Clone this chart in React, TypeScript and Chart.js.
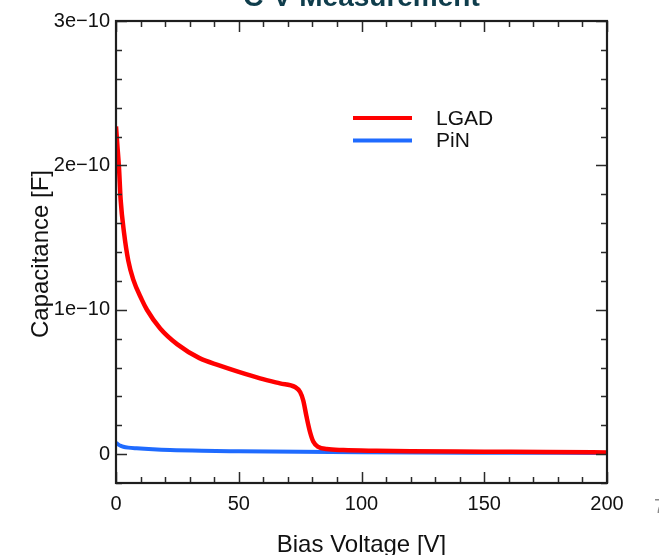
import { useEffect, useRef } from "react";
import { Chart, registerables } from "chart.js";

Chart.register(...registerables);

// Bias voltage [V] and measured capacitance [F] for each sensor
const LGAD_VOLTAGE = [
  0, 0.5, 1.2, 1.9, 3.3, 5, 7, 10.5, 12.6, 18, 25, 34, 42, 50, 58.7, 66.8, 72.9,
  75, 76.3, 77.6, 79, 80.4, 82.4, 85.8, 92.6, 106, 120, 150, 175, 200,
];
const LGAD_CAPACITANCE = [
  2.27e-10, 2.15e-10, 1.99e-10, 1.76e-10, 1.53e-10, 1.34e-10, 1.21e-10, 1.07e-10,
  1.0e-10, 0.87e-10, 0.76e-10, 0.665e-10, 0.615e-10, 0.57e-10, 0.525e-10, 0.49e-10,
  0.465e-10, 0.43e-10, 0.37e-10, 0.26e-10, 0.155e-10, 0.085e-10, 0.05e-10,
  0.035e-10, 0.028e-10, 0.023e-10, 0.02e-10, 0.017e-10, 0.014e-10, 0.012e-10,
];
const PIN_VOLTAGE = [0, 1, 2, 3, 5, 8.4, 15, 22, 35, 50, 75, 100, 150, 200];
const PIN_CAPACITANCE = [
  0.078e-10, 0.066e-10, 0.057e-10, 0.051e-10, 0.045e-10, 0.04e-10, 0.033e-10,
  0.028e-10, 0.023e-10, 0.02e-10, 0.016e-10, 0.013e-10, 0.01e-10, 0.008e-10,
];

const SERIES_LABELS = ["LGAD", "PiN"];
const SERIES_COLORS = ["#ff0000", "#1f6bff"];

const X_TICKS = [0, 50, 100, 150, 200];
const X_MINOR_STEP = 10;
const Y_TICKS = [0, 1e-10, 2e-10, 3e-10];
const Y_TICK_LABELS = ["0", "1e\u221210", "2e\u221210", "3e\u221210"];
const Y_MINOR_STEP = 0.2e-10;
const X_RANGE = [0, 200];
const Y_RANGE = [-0.2e-10, 3e-10];

const TITLE = "C-V Measurement";
const X_TITLE = "Bias Voltage [V]";
const Y_TITLE = "Capacitance [F]";
const PAGE_NUMBER = "7";

const FONT = '"Liberation Sans", Arial, Helvetica, sans-serif';

// Boxed frame with inward major/minor ticks on all four sides
const framePlugin = {
  id: "frame",
  afterDatasetsDraw(chart: any) {
    const { ctx, chartArea: a, scales } = chart;
    const xs = scales.x;
    const ys = scales.y;
    ctx.save();
    ctx.strokeStyle = "#2a2a2a";
    ctx.lineWidth = 1.5;
    const major = 11;
    const minor = 6;
    const eps = 1e-9;
    ctx.beginPath();
    for (let v = X_RANGE[0]; v <= X_RANGE[1] + eps; v += X_MINOR_STEP) {
      const isMajor = X_TICKS.some((t) => Math.abs(t - v) < eps);
      const len = isMajor ? major : minor;
      const px = Math.round(xs.getPixelForValue(v)) + 0.5;
      ctx.moveTo(px, a.bottom);
      ctx.lineTo(px, a.bottom - len);
      ctx.moveTo(px, a.top);
      ctx.lineTo(px, a.top + len);
    }
    const n = Math.round((Y_RANGE[1] - Y_RANGE[0]) / Y_MINOR_STEP);
    for (let i = 0; i <= n; i++) {
      const v = Y_RANGE[0] + i * Y_MINOR_STEP;
      const isMajor = Y_TICKS.some((t) => Math.abs(t - v) < 1e-13);
      const len = isMajor ? major : minor;
      const py = Math.round(ys.getPixelForValue(v)) + 0.5;
      ctx.moveTo(a.left, py);
      ctx.lineTo(a.left + len, py);
      ctx.moveTo(a.right, py);
      ctx.lineTo(a.right - len, py);
    }
    ctx.stroke();
    ctx.lineWidth = 2.2;
    ctx.strokeStyle = "#1e1e1e";
    ctx.strokeRect(a.left, a.top, a.right - a.left, a.bottom - a.top);
    ctx.restore();
  },
};

// Legend drawn inside the plot area, one short line + label per dataset
const legendPlugin = {
  id: "innerLegend",
  afterDraw(chart: any) {
    const { ctx, chartArea: a } = chart;
    ctx.save();
    ctx.font = `21px ${FONT}`;
    ctx.textBaseline = "middle";
    ctx.textAlign = "left";
    chart.data.datasets.forEach((ds: any, i: number) => {
      const y = a.top + 97 + i * 22.5;
      ctx.strokeStyle = ds.borderColor;
      ctx.lineWidth = 4;
      ctx.beginPath();
      ctx.moveTo(a.left + 237, y);
      ctx.lineTo(a.left + 296, y);
      ctx.stroke();
      ctx.fillStyle = "#111";
      ctx.fillText(ds.label, a.left + 320, y + 1);
    });
    ctx.restore();
  },
};

// Chart title, axis titles and the page number
const textPlugin = {
  id: "texts",
  afterDraw(chart: any) {
    const { ctx, chartArea: a } = chart;
    const cx = (a.left + a.right) / 2;
    const cy = (a.top + a.bottom) / 2;
    ctx.save();
    ctx.textAlign = "center";
    ctx.textBaseline = "alphabetic";
    ctx.fillStyle = "#0f3d4c";
    ctx.font = `bold 28px ${FONT}`;
    ctx.fillText(TITLE, cx, 6);

    ctx.fillStyle = "#111";
    ctx.font = `24px ${FONT}`;
    ctx.fillText(X_TITLE, cx, 552);

    ctx.translate(48, cy + 2);
    ctx.rotate(-Math.PI / 2);
    ctx.fillText(Y_TITLE, 0, 0);
    ctx.restore();

    ctx.save();
    ctx.fillStyle = "#8a8a8a";
    ctx.font = `20px ${FONT}`;
    ctx.textAlign = "left";
    ctx.fillText(PAGE_NUMBER, 654, 513);
    ctx.restore();
  },
};

export default function App() {
  const canvasRef = useRef<HTMLCanvasElement | null>(null);

  useEffect(() => {
    const canvas = canvasRef.current;
    if (!canvas) return;
    const toPoints = (xs: number[], ys: number[]) =>
      xs.map((x, i) => ({ x, y: ys[i] }));

    const chart = new Chart(canvas, {
      type: "line",
      data: {
        datasets: [
          {
            label: SERIES_LABELS[0],
            data: toPoints(LGAD_VOLTAGE, LGAD_CAPACITANCE),
            borderColor: SERIES_COLORS[0],
            borderWidth: 4.5,
            pointRadius: 0,
            cubicInterpolationMode: "monotone",
          },
          {
            label: SERIES_LABELS[1],
            data: toPoints(PIN_VOLTAGE, PIN_CAPACITANCE),
            borderColor: SERIES_COLORS[1],
            borderWidth: 4,
            pointRadius: 0,
            cubicInterpolationMode: "monotone",
          },
        ],
      },
      options: {
        responsive: false,
        animation: false,
        devicePixelRatio: 1,
        layout: { padding: { left: 0, right: 52, top: 21, bottom: 0 } },
        plugins: {
          legend: { display: false },
          title: { display: false },
          tooltip: { enabled: false },
        },
        scales: {
          x: {
            type: "linear",
            min: X_RANGE[0],
            max: X_RANGE[1],
            grid: { display: false, drawTicks: false },
            border: { display: false },
            afterBuildTicks: (scale: any) => {
              scale.ticks = X_TICKS.map((value) => ({ value }));
            },
            afterFit: (scale: any) => {
              scale.height = 72;
            },
            ticks: {
              padding: 9,
              color: "#111",
              font: { family: FONT, size: 20 },
              maxRotation: 0,
              callback: (v: any) => String(v),
            },
          },
          y: {
            type: "linear",
            min: Y_RANGE[0],
            max: Y_RANGE[1],
            grid: { display: false, drawTicks: false },
            border: { display: false },
            afterBuildTicks: (scale: any) => {
              scale.ticks = Y_TICKS.map((value) => ({ value }));
            },
            afterFit: (scale: any) => {
              scale.width = 116;
            },
            ticks: {
              padding: 6,
              color: "#111",
              font: { family: FONT, size: 20 },
              callback: (_v: any, i: number) => Y_TICK_LABELS[i],
            },
          },
        },
      },
      plugins: [framePlugin, legendPlugin, textPlugin],
    } as any);

    return () => chart.destroy();
  }, []);

  return (
    <div
      style={{
        position: "absolute",
        left: 0,
        top: 0,
        width: 659,
        height: 555,
        background: "#fff",
      }}
    >
      <canvas ref={canvasRef} width={659} height={555} style={{ display: "block" }} />
    </div>
  );
}
